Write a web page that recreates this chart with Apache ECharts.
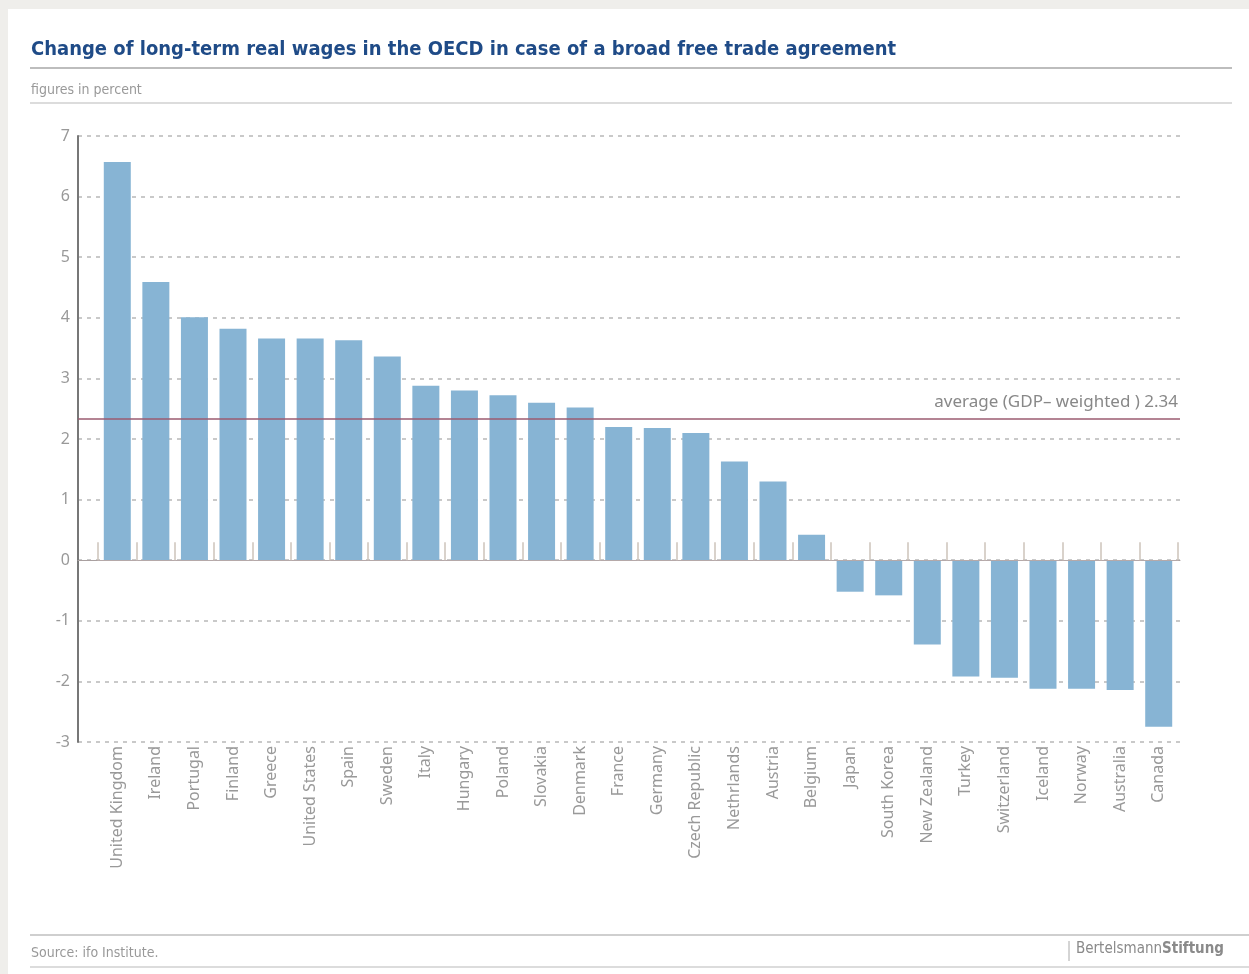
<!DOCTYPE html>
<html>
<head>
<meta charset="utf-8">
<script src="https://cdn.jsdelivr.net/npm/echarts@6/dist/echarts.min.js"></script>
<style>
  html, body { margin: 0; padding: 0; background: #fff; }
  #chart { width: 1249px; height: 974px; }
</style>
</head>
<body>
<div id="chart"></div>
<script>
// data
const countries = [
  'United Kingdom', 'Ireland', 'Portugal', 'Finland', 'Greece', 'United States',
  'Spain', 'Sweden', 'Italy', 'Hungary', 'Poland', 'Slovakia', 'Denmark', 'France',
  'Germany', 'Czech Republic', 'Nethrlands', 'Austria', 'Belgium', 'Japan',
  'South Korea', 'New Zealand', 'Turkey', 'Switzerland', 'Iceland', 'Norway',
  'Australia', 'Canada'
]
const wageChange = [
  6.57, 4.59, 4.01, 3.82, 3.66, 3.66,
  3.63, 3.36, 2.88, 2.8, 2.72, 2.6, 2.52, 2.2,
  2.18, 2.1, 1.63, 1.3, 0.42, -0.52,
  -0.58, -1.39, -1.92, -1.94, -2.12, -2.12,
  -2.14, -2.75
]
const average = 2.34
const averageLabel = 'average (GDP– weighted ) 2.34'
const yMin = -3
const yMax = 7

const chart = echarts.init(document.getElementById('chart'))

const narrow = "'Liberation Sans Narrow', 'DejaVu Sans Condensed', sans-serif"
const body = "'Noto Sans', 'Open Sans', sans-serif"

const option = {
  backgroundColor: '#fff',
  animation: false,
  title: [
    {
      text: 'Change of long-term real wages in the OECD in case of a broad free trade agreement',
      left: 26,
      top: 35,
      textStyle: { fontFamily: narrow, fontSize: 20, fontWeight: 'bold', color: '#1f4b87' },
    },
    {
      text: 'figures in percent',
      left: 26,
      top: 78,
      textStyle: { fontFamily: narrow, fontSize: 14, fontWeight: 'normal', color: '#999' },
    },
    {
      text: 'Source: ifo Institute.',
      left: 26,
      top: 941,
      textStyle: { fontFamily: narrow, fontSize: 14, fontWeight: 'normal', color: '#999' },
    },
  ],
  graphic: [
    { type: 'rect', shape: { x: 0, y: 0, width: 1249, height: 9 }, style: { fill: '#efeeeb' } },
    { type: 'rect', shape: { x: 0, y: 0, width: 8, height: 974 }, style: { fill: '#efeeeb' } },
    { type: 'line', shape: { x1: 30, y1: 68, x2: 1232, y2: 68 }, style: { stroke: '#bdbdbd', lineWidth: 2 } },
    { type: 'line', shape: { x1: 30, y1: 103, x2: 1232, y2: 103 }, style: { stroke: '#dcdcdc', lineWidth: 2 } },
    { type: 'line', shape: { x1: 30, y1: 935, x2: 1249, y2: 935 }, style: { stroke: '#cfcfcf', lineWidth: 2 } },
    { type: 'line', shape: { x1: 30, y1: 967, x2: 1249, y2: 967 }, style: { stroke: '#dcdcdc', lineWidth: 2 } },
    { type: 'line', shape: { x1: 1069, y1: 941, x2: 1069, y2: 961 }, style: { stroke: '#aaa', lineWidth: 1 } },
    {
      type: 'text',
      x: 1076,
      y: 942,
      style: {
        text: '{a|Bertelsmann}{b|Stiftung}',
        rich: {
          a: { fontFamily: narrow, fontSize: 15, fill: '#8a8a8a' },
          b: { fontFamily: narrow, fontSize: 15, fontWeight: 'bold', fill: '#8a8a8a' },
        },
      },
    },
  ],
  grid: [
    { left: 98, right: 71, top: 136, height: 606 },
    { left: 78, right: 69, top: 136, height: 606 },
  ],
  xAxis: [
    {
      // zero line with the small upward ticks
      type: 'category',
      gridIndex: 0,
      data: countries,
      axisLine: { onZero: true, lineStyle: { color: '#b5a9a9', width: 1 } },
      axisTick: { show: true, inside: true, interval: 0, length: 18, lineStyle: { color: '#cdc3bb', width: 1.5 } },
      axisLabel: { show: false },
      z: 3,
    },
    {
      // country labels at the bottom
      type: 'category',
      gridIndex: 0,
      data: countries,
      position: 'bottom',
      axisLine: { show: false, onZero: false },
      axisTick: { show: false },
      axisLabel: {
        rotate: 90,
        interval: 0,
        margin: 4,
        fontFamily: body,
        fontSize: 16,
        color: '#999',
      },
    },
    {
      type: 'value',
      gridIndex: 1,
      min: 0,
      max: 1,
      axisLine: { show: true, onZero: true, lineStyle: { color: '#a9a0a0', width: 1 } },
      axisTick: { show: false },
      axisLabel: { show: false },
      splitLine: { show: false },
    },
  ],
  yAxis: [
    {
      type: 'value',
      gridIndex: 0,
      min: yMin,
      max: yMax,
      interval: 1,
      show: false,
    },
    {
      type: 'value',
      gridIndex: 1,
      min: yMin,
      max: yMax,
      interval: 1,
      axisLine: { show: true, lineStyle: { color: '#777', width: 2 } },
      axisTick: { show: false },
      axisLabel: { fontFamily: body, fontSize: 16, color: '#999', margin: 8 },
      splitLine: { show: true, lineStyle: { color: '#b8b8b8', type: [4, 5], width: 1.5 } },
    },
  ],
  series: [
    {
      type: 'bar',
      xAxisIndex: 0,
      yAxisIndex: 0,
      data: wageChange,
      barWidth: 27,
      itemStyle: { color: '#87b4d4' },
    },
    {
      type: 'line',
      xAxisIndex: 2,
      yAxisIndex: 1,
      data: [],
      z: 5,
      markLine: {
        silent: true,
        symbol: 'none',
        lineStyle: { color: '#9b5b70', width: 1.5, type: 'solid' },
        label: {
          position: 'insideEndTop',
          formatter: averageLabel,
          fontFamily: body,
          fontSize: 17,
          color: '#888',
          distance: [2, 8],
        },
        data: [{ yAxis: average }],
      },
    },
  ],
}

chart.setOption(option)
</script>
</body>
</html>
